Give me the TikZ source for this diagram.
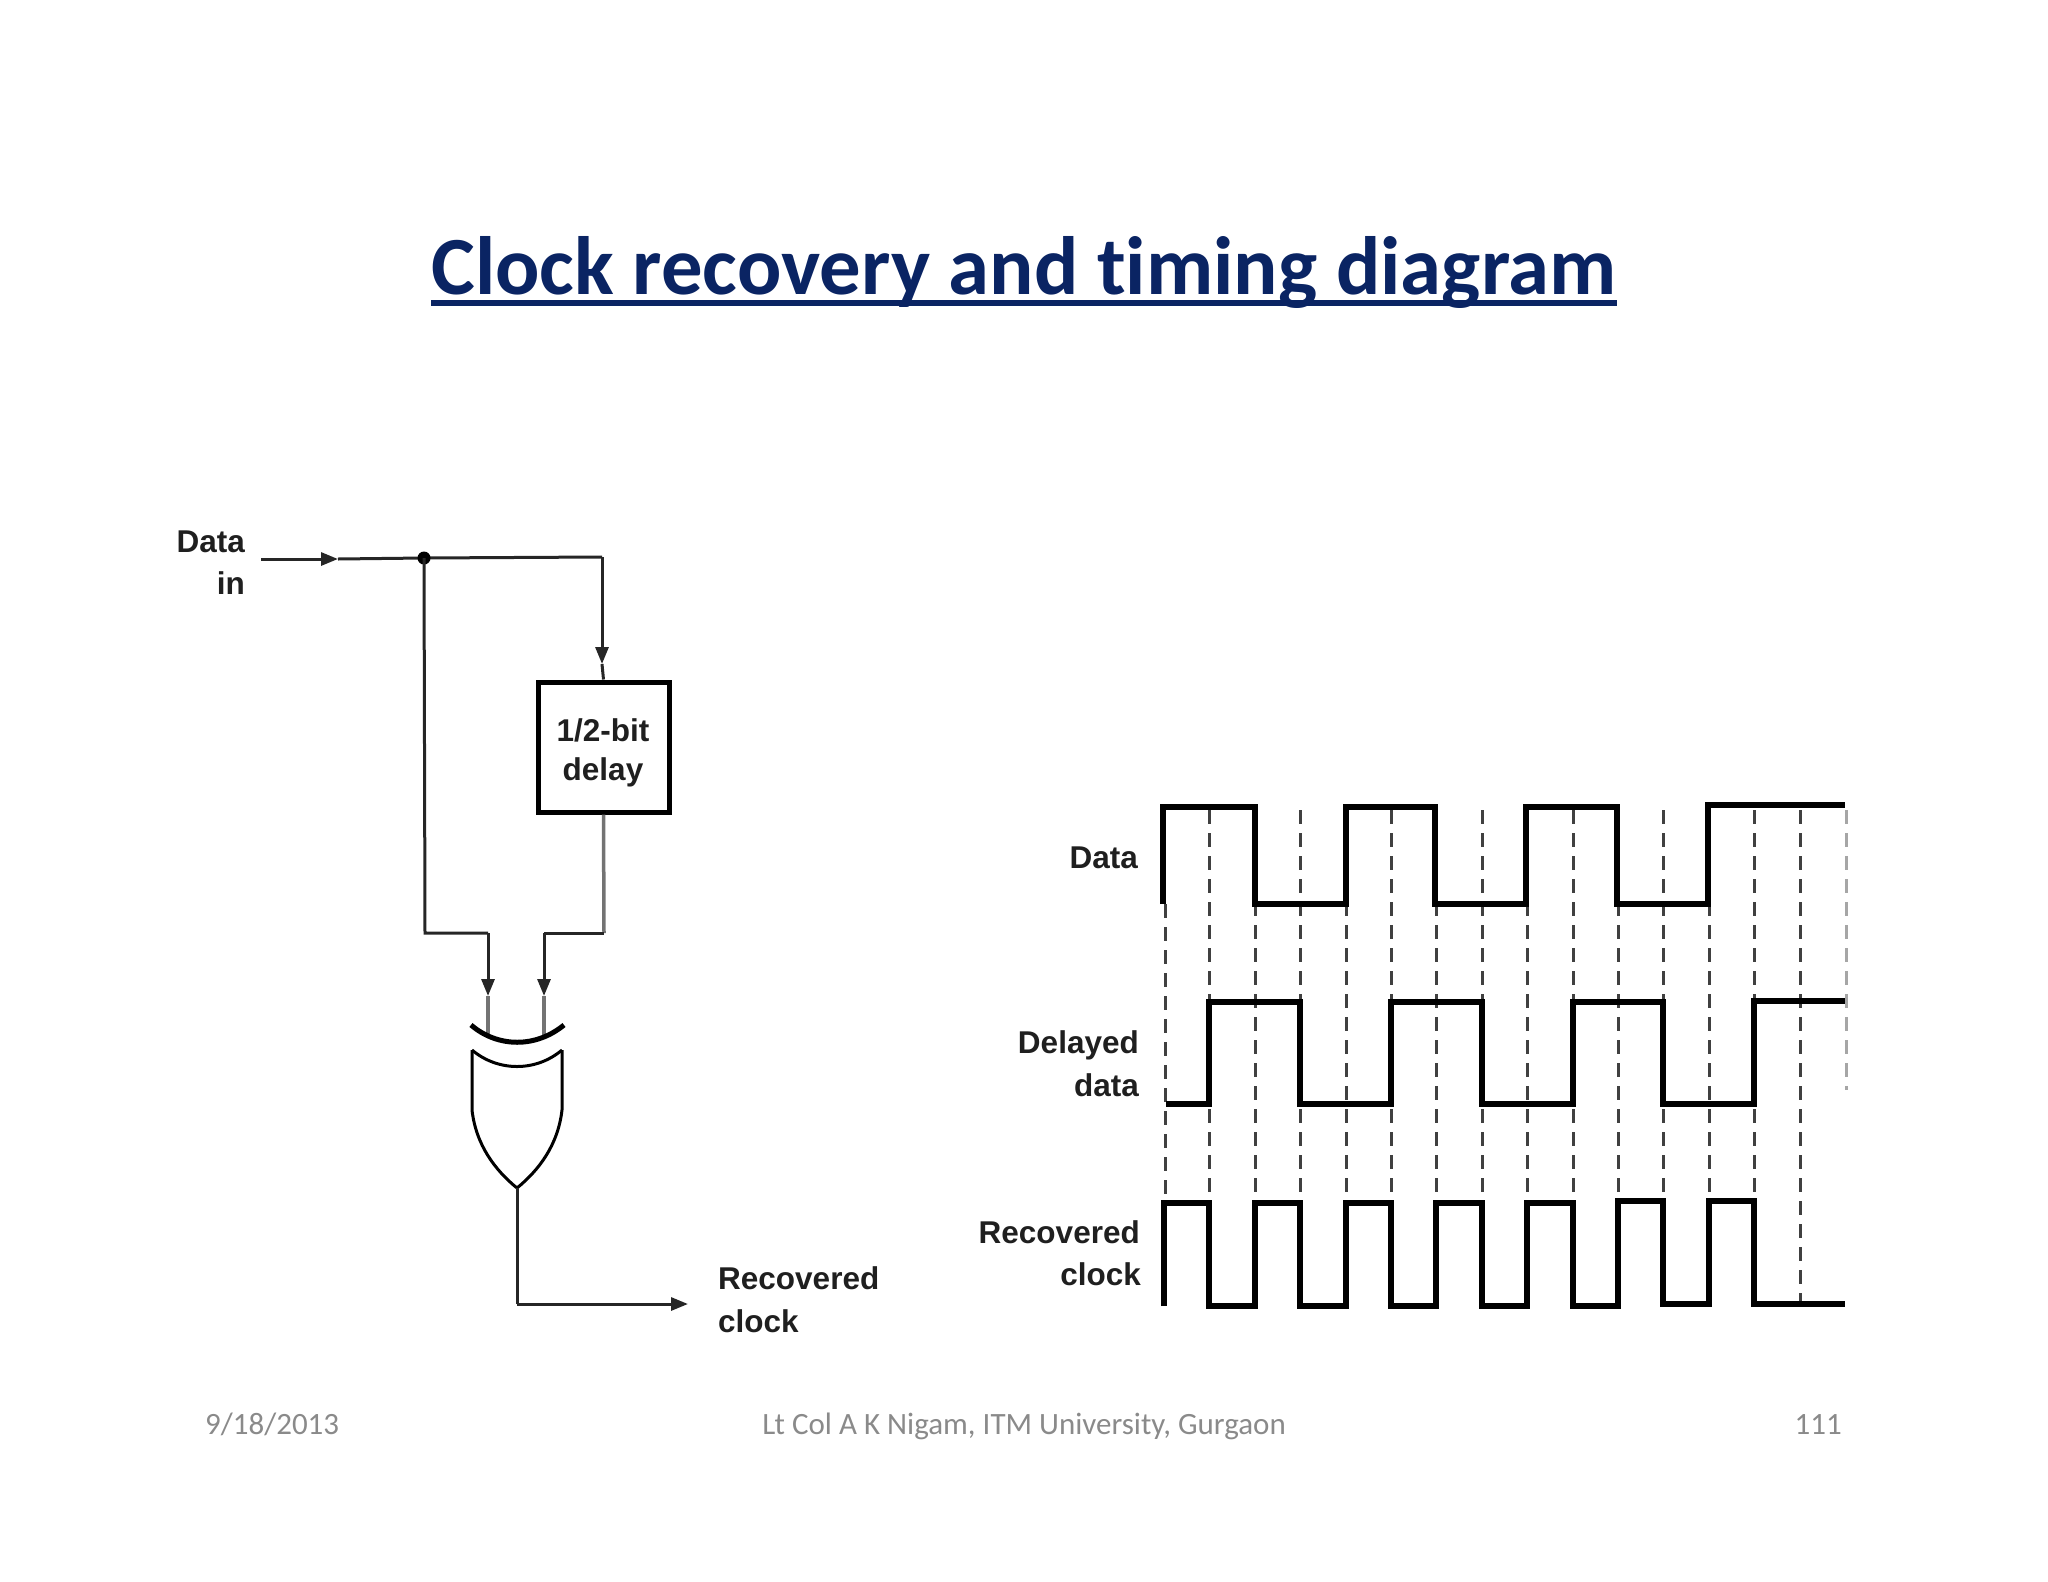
\documentclass[tikz,border=0pt]{standalone}
\usepackage{fontspec}
\setmainfont{Liberation Sans}
\newfontfamily\calib{Carlito}
\usetikzlibrary{arrows.meta,calc}
\definecolor{titleblue}{HTML}{0A2463}
\definecolor{footgrey}{HTML}{8A8A8A}
\tikzset{
  wire/.style={draw=black!85,line width=3pt},
  softwire/.style={draw=black!55,line width=3.5pt},
  tipped/.style={-{Triangle[length=17pt,width=13pt]}},
  tag/.style={inner sep=0pt,font=\fontsize{31.5}{31.5}\selectfont\bfseries,text=black!88},
  foot/.style={inner sep=0pt,font=\calib\fontsize{31}{31}\selectfont,text=footgrey},
  wave/.style={draw=black,line width=6pt,line join=miter},
  tick/.style={draw=black!75,line width=3pt,dash pattern=on 14pt off 9pt},
  faint/.style={draw=black!35,line width=3pt,dash pattern=on 14pt off 9pt},
  delaybox/.style={draw=black,line width=5pt,minimum width=131pt,minimum height=130pt,inner sep=0pt},
  gate/.style={draw=black,line width=3pt},
}
\begin{document}
\begin{tikzpicture}[x=1pt,y=-1pt]
\useasboundingbox (0,0) rectangle (2048,1582);
% title
\node[inner sep=0pt,anchor=base,font=\calib\bfseries\fontsize{82.7}{82.7}\selectfont,text=titleblue] (title) at (1024,294) {Clock recovery and t\kern0pt iming diagram};
\draw[titleblue,line width=5.5pt] ($(title.base west)+(0,9)$) -- ($(title.base east)+(0,9)$);
% circuit
\node[delaybox] (delay) at (603.5,747) {};
\node[tag,anchor=base] (d1) at (603,741) {1/2-bit};
\node[tag,anchor=base] (d2) at (603,780) {delay};
\node[tag,anchor=base east] (datain1) at (245,552) {Data};
\node[tag,anchor=base east] (datain2) at (245,594) {in};
\node[tag,anchor=base west] (rec1) at (718,1289) {Recovered};
\node[tag,anchor=base west] (rec2) at (718,1332) {clock};
\coordinate (start) at (261,559);
\coordinate (mid) at (338,559);
\coordinate (junction) at (424,558);
\coordinate (corner) at (602,557);
\coordinate (tipa) at (602,664);
\coordinate (lbend) at (425,933);
\coordinate (lturn) at (488,933);
\coordinate (ltip) at (488,996);
\coordinate (lend) at (488,1036);
\coordinate (rbend) at (604,933);
\coordinate (rturn) at (544,933);
\coordinate (rtip) at (544,996);
\coordinate (rend) at (544,1036);
\coordinate (apex) at (517,1188);
\coordinate (obend) at (517,1304);
\coordinate (otip) at (688,1304);
\draw[wire,tipped] (start) -- (mid);
\draw[wire] (mid) -- (junction) -- (corner);
\draw[wire,tipped] (corner) -- (tipa);
\draw[wire] (tipa) -- (delay.north);
\fill[black] (junction) circle (6.5pt);
\draw[wire] (junction) -- (lbend) -- (lturn);
\draw[wire,tipped] (lturn) -- (ltip);
\draw[softwire] (ltip) -- (lend);
\draw[softwire] (delay.south) -- (rbend);
\draw[wire] (rbend) -- (rturn);
\draw[wire,tipped] (rturn) -- (rtip);
\draw[softwire] (rtip) -- (rend);
% gate
\draw[gate,line width=5pt] (471,1025) .. controls (498,1048) and (536,1048) .. (564,1025);
\draw[gate] (472,1050) .. controls (498,1072) and (536,1072) .. (562,1050);
\draw[gate] (472,1050) -- (472,1110) .. controls (476,1145) and (495,1170) .. (apex)
  .. controls (539,1170) and (558,1145) .. (562,1110) -- (562,1050);
\draw[wire] (apex) -- (obend);
\draw[wire,tipped] (obend) -- (otip);
% timing labels
\node[tag,anchor=base east] (l1) at (1138,868) {Data};
\node[tag,anchor=base east] (l2) at (1139,1053) {Delayed};
\node[tag,anchor=base east] (l3) at (1139,1096) {data};
\node[tag,anchor=base east] (l4) at (1140,1243) {Recovered};
\node[tag,anchor=base east] (l5) at (1141,1285) {clock};
% dashed guides
\foreach \i/\x in {1/1209,2/1255,3/1300,4/1346,5/1391,6/1436,7/1482,8/1527,9/1573,10/1618,11/1663,12/1709,13/1754}
  \draw[tick] (\x,810) -- (\x,1198);
\draw[tick] (1165,904) -- (1165,1198);
\draw[tick] (1800,810) -- (1800,1304);
\draw[faint] (1846,810) -- (1846,1090);
% waveforms
\draw[wave] (1163,904) -- (1163,807) -- (1255,807) -- (1255,904) -- (1346,904) -- (1346,807) -- (1435,807) -- (1435,904) -- (1526,904) -- (1526,807) -- (1617,807) -- (1617,904) -- (1708,904) -- (1708,805) -- (1845,805);
\draw[wave] (1166,1104) -- (1209,1104) -- (1209,1002) -- (1300,1002) -- (1300,1104) -- (1391,1104) -- (1391,1002) -- (1482,1002) -- (1482,1104) -- (1573,1104) -- (1573,1002) -- (1663,1002) -- (1663,1104) -- (1754,1104) -- (1754,1001) -- (1845,1001);
\draw[wave] (1164,1306) -- (1164,1203) -- (1209,1203) -- (1209,1306) -- (1255,1306) -- (1255,1203) -- (1300,1203) -- (1300,1306) -- (1346,1306) -- (1346,1203) -- (1391,1203) -- (1391,1306) -- (1436,1306) -- (1436,1203) -- (1482,1203) -- (1482,1306) -- (1527,1306) -- (1527,1203) -- (1573,1203) -- (1573,1306) -- (1618,1306) -- (1618,1201) -- (1663,1201) -- (1663,1304) -- (1709,1304) -- (1709,1201) -- (1754,1201) -- (1754,1304) -- (1845,1304);
% footer
\node[foot,anchor=base west] (f1) at (205,1434) {9/18/2013};
\node[foot,anchor=base] (f2) at (1024,1434) {Lt Col A K Nigam, ITM University, Gurgaon};
\node[foot,anchor=base east] (f3) at (1842,1434) {111};
\end{tikzpicture}
\end{document}
